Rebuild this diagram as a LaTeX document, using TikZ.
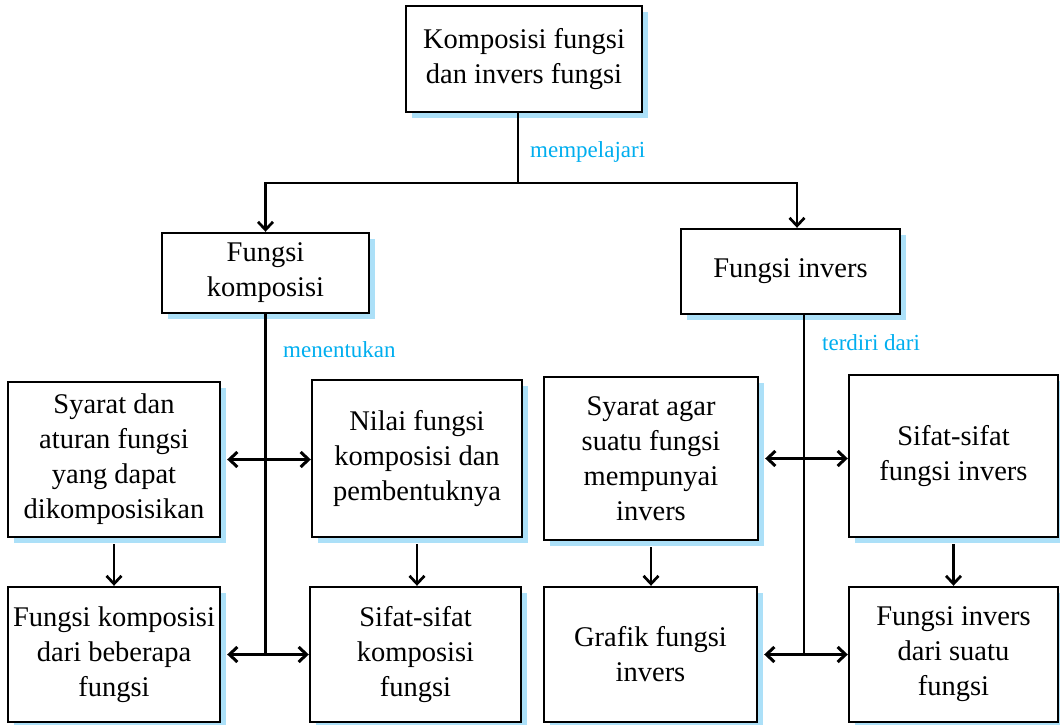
\documentclass[tikz,border=0pt]{standalone}
\usepackage{fontspec}
\setmainfont{Liberation Serif}
\usepackage{xcolor}
\usetikzlibrary{arrows.meta,positioning,shadows}

\definecolor{shadowblue}{RGB}{172,224,248}
\definecolor{labelcyan}{RGB}{0,174,239}

\begin{document}
\begin{tikzpicture}[
  x=1pt, y=-1pt,
  box/.style={draw, line width=2.4pt, fill=white,
              drop shadow={shadow xshift=6pt, shadow yshift=-6pt,
                           fill=shadowblue, opacity=1},
              align=center, inner sep=2pt,
              font=\fontsize{28.5}{35}\selectfont},
  lbl/.style={anchor=base west, inner sep=0pt, text=labelcyan,
              font=\fontsize{23}{28}\selectfont},
  line/.style={line width=2.4pt},
  arr/.style={line width=2.7pt, -{Straight Barb[length=8pt,width=15pt]}},
  arrboth/.style={line width=3pt,
                  {Straight Barb[length=8pt,width=15pt]}-{Straight Barb[length=8pt,width=15pt]}},
]
\useasboundingbox (0,0) rectangle (1060,725);

% ---- top concept ----
\node[box, minimum width=236pt, minimum height=106pt] (K) at (524,59)
  {Komposisi fungsi\\dan invers fungsi};

% ---- second level ----
\node[box, minimum width=207pt, minimum height=80pt] (FK) at (265.5,273)
  {Fungsi\\komposisi};
\node[box, minimum width=219pt, minimum height=85pt] (FI) at (790.5,271.5)
  {Fungsi invers};

% ---- third level ----
\node[box, minimum width=212pt, minimum height=155pt] (SD) at (114,459.5)
  {Syarat dan\\aturan fungsi\\yang dapat\\dikomposisikan};
\node[box, minimum width=210pt, minimum height=157pt] (NF) at (417,458.5)
  {Nilai fungsi\\komposisi dan\\pembentuknya};
\node[box, minimum width=214pt, minimum height=163pt] (SA) at (651,458.5)
  {Syarat agar\\suatu fungsi\\mempunyai\\invers};
\node[box, minimum width=209pt, minimum height=162pt] (SF) at (953.5,456)
  {Sifat-sifat\\fungsi invers};

% ---- fourth level ----
\node[box, minimum width=212pt, minimum height=135pt] (FB) at (114,654.5)
  {Fungsi komposisi\\dari beberapa\\fungsi};
\node[box, minimum width=211pt, minimum height=135pt] (SK) at (415.5,654.5)
  {Sifat-sifat\\komposisi\\fungsi};
\node[box, minimum width=213pt, minimum height=135pt] (GF) at (650.5,654.5)
  {Grafik fungsi\\invers};
\node[box, minimum width=209pt, minimum height=135pt] (FD) at (953.5,654.5)
  {Fungsi invers\\dari suatu\\fungsi};

% ---- link labels ----
\node[lbl] (lmp) at (530,157) {mempelajari};
\node[lbl] (lmn) at (283,357) {menentukan};
\node[lbl] (ltd) at (822,350) {terdiri dari};

% ---- top branching ----
\coordinate (top) at (518,183);
\draw[line] (K.south -| top) -- (top);
\draw[arr] (top) -| (FK.north);
\draw[arr] (top) -| ([xshift=6.5pt]FI.north);

% ---- left trunk ----
\draw[line] (FK.south) -- (FK.south |- FB.east);
\draw[arrboth] ([xshift=6pt]SD.east) -- (NF.west |- SD.east);
\draw[arrboth] ([xshift=6pt]FB.east) -- (SK.west);

% ---- right trunk ----
\draw[line] ([xshift=13.5pt]FI.south) -- ([xshift=13.5pt]FI.south |- GF.east);
\draw[arrboth] ([xshift=6pt]SA.east) -- (SF.west |- SA.east);
\draw[arrboth] ([xshift=6pt]GF.east) -- (FD.west);

% ---- downward links ----
\draw[arr] ([yshift=-6pt]SD.south) -- (SD.south |- FB.north);
\draw[arr] ([yshift=-6pt]NF.south) -- (NF.south |- SK.north);
\draw[arr] ([yshift=-6pt]SA.south) -- (SA.south |- GF.north);
\draw[arr] ([yshift=-6pt]SF.south) -- (SF.south |- FD.north);

\end{tikzpicture}
\end{document}
